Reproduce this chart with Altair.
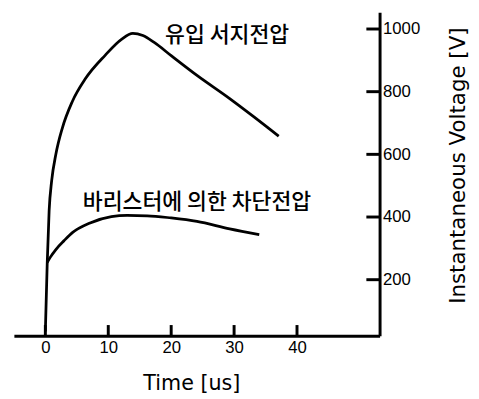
import altair as alt
import pandas as pd

# Upper curve: incoming surge voltage
t_surge = [0, 0.3, 0.6, 1.0, 1.67, 2.7, 4.27, 6.35, 9.5, 12.1, 13.9, 15.5, 17.3, 20, 24.1, 29.3, 33, 37.1]
v_surge = [35, 255, 420, 515, 600, 684, 768, 841, 916, 967, 986, 979, 957, 915, 852, 778, 722, 658]

# Lower curve: voltage clamped by varistor
t_clamp = [0.3, 0.8, 1.7, 3, 4.3, 7, 10.5, 13, 16.2, 20, 24.1, 29.3, 34]
v_clamp = [255, 272, 297, 325, 350, 380, 401, 405, 404, 397, 386, 362, 344]

x_ticks = [0, 10, 20, 30, 40]
y_ticks = [200, 400, 600, 800, 1000]

labels = ["유입 서지전압", "바리스터에 의한 차단전압"]
label_t = [28.9, 24.1]
label_v = [980, 448]

XMIN, XMAX = -5, 53.125
YMIN, YMAX = 21.2, 1053.3

df_surge = pd.DataFrame({"t": t_surge, "v": v_surge})
df_clamp = pd.DataFrame({"t": t_clamp, "v": v_clamp})
df_lab = pd.DataFrame({"t": label_t, "v": label_v, "label": labels})
df_xt = pd.DataFrame({"t": x_ticks, "v0": [YMIN] * 5, "v1": [YMIN + 34] * 5})
df_yt = pd.DataFrame({"v": y_ticks, "t0": [XMAX - 2.1] * 5, "t1": [XMAX] * 5})

xscale = alt.Scale(domain=[XMIN, XMAX], nice=False, zero=False)
yscale = alt.Scale(domain=[YMIN, YMAX], nice=False, zero=False)

xaxis = alt.Axis(
    orient="bottom", values=x_ticks, ticks=False, tickSize=0, grid=False, format="d",
    domainColor="black", domainWidth=3,
    labelFont="Liberation Sans", labelFontSize=17, labelColor="black", labelPadding=4,
    title="Time [us]", titleFont="DejaVu Sans", titleFontSize=21, titleFontWeight="normal",
    titleColor="black", titleX=180.5, titleY=55, titleAlign="center", titleBaseline="alphabetic",
)
yaxis = alt.Axis(
    orient="right", values=y_ticks, ticks=False, tickSize=0, grid=False, format="d",
    domainColor="black", domainWidth=3,
    labelFont="Liberation Sans", labelFontSize=17, labelColor="black", labelPadding=3,
    title="Instantaneous Voltage [V]", titleFont="DejaVu Sans", titleFontSize=21.7,
    titleFontWeight="normal", titleColor="black", titleAngle=270,
    titleX=86, titleY=155.5, titleAlign="center", titleBaseline="alphabetic",
)

surge = alt.Chart(df_surge).mark_line(color="black", strokeWidth=2.8, interpolate="monotone").encode(
    x=alt.X("t:Q", scale=xscale, axis=xaxis),
    y=alt.Y("v:Q", scale=yscale, axis=yaxis),
)
clamp = alt.Chart(df_clamp).mark_line(color="black", strokeWidth=2.8, interpolate="monotone").encode(
    x="t:Q", y="v:Q"
)
xt = alt.Chart(df_xt).mark_rule(color="black", strokeWidth=3).encode(
    x="t:Q", y="v0:Q", y2="v1:Q"
)
yt = alt.Chart(df_yt).mark_rule(color="black", strokeWidth=3).encode(
    x="t0:Q", x2="t1:Q", y="v:Q"
)
txt = alt.Chart(df_lab).mark_text(
    font="Noto Sans CJK KR", fontSize=22, fontWeight=500, color="black",
    align="center", baseline="middle"
).encode(x="t:Q", y="v:Q", text="label:N")

chart = alt.layer(surge, clamp, xt, yt, txt).properties(
    width=372, height=329,
    autosize=alt.AutoSizeParams(type="none"),
    padding={"left": 6, "top": 1, "right": 93, "bottom": 61},
).configure_view(stroke=None)

chart.save("out.html", embed_options={"renderer": "svg", "actions": False})
